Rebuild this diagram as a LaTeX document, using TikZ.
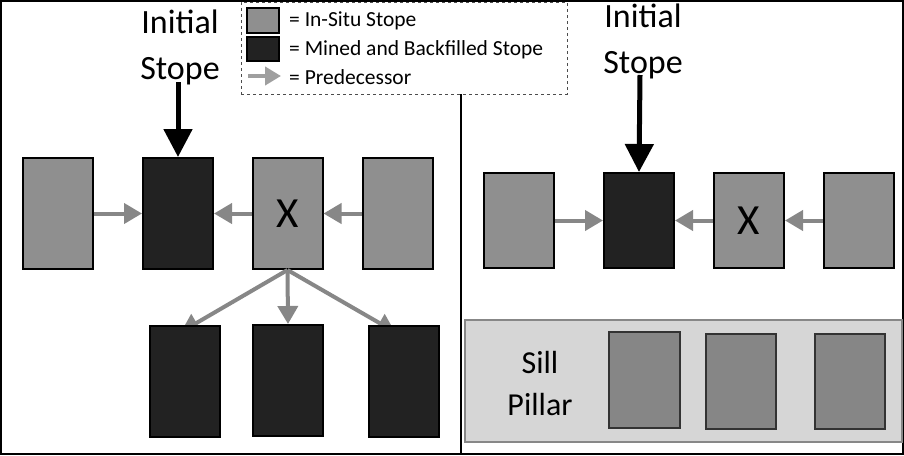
\documentclass[tikz,border=0pt]{standalone}
\usepackage{fontspec}
\setmainfont{Carlito}
\usetikzlibrary{arrows.meta}
\definecolor{insitu}{HTML}{8F8F8F}
\definecolor{mined}{HTML}{222222}
\definecolor{predgrey}{HTML}{878787}
\definecolor{sillfill}{HTML}{D6D6D6}
\definecolor{sillbox}{HTML}{868686}
\tikzset{
  stopebox/.style={draw=black, line width=2pt, minimum width=70pt, inner sep=0pt},
  insitubox/.style={stopebox, fill=insitu},
  minedbox/.style={stopebox, fill=mined},
  pred/.style={draw=predgrey, line width=4pt, -{Triangle[length=18pt,width=20pt]}, color=predgrey},
  initarrow/.style={draw=black, line width=5pt, -{Triangle[length=28pt,width=28pt]}},
  bigtext/.style={font=\fontsize{34}{46}\selectfont, align=center, inner sep=0pt},
  legtext/.style={font=\fontsize{21.5}{25}\selectfont, anchor=west, inner sep=0pt},
  sillboxst/.style={draw=black!80, line width=2pt, fill=sillbox, inner sep=0pt}
}
\begin{document}
\begin{tikzpicture}[x=1pt,y=-1pt]
\useasboundingbox (0,0) rectangle (904,455);
% frame and divider
\draw[line width=1.5pt] (1,1) rectangle (903,454);
\draw[line width=1.5pt] (461,1) -- (461,454);

% ---------- left panel ----------
\node[bigtext] (initL) at (180,47) {Initial\\Stope};
\coordinate (aL) at (178,82);

\node[insitubox, minimum height=111pt] (L1) at (57.5,213.5) {};
\node[minedbox, minimum height=111pt] (L2) at (178,213.5) {};
\node[insitubox, minimum height=111pt] (L3) at (287.5,213.5) {\fontsize{43}{46}\selectfont X};
\node[insitubox, minimum height=111pt] (L4) at (397.5,213.5) {};

% arrows to bottom boxes (drawn first, behind boxes)
\coordinate (tB1) at (181,332);
\coordinate (tB3) at (395,332);
\draw[pred] (L3.south) -- (tB1);
\draw[pred] (L3.south) -- (tB3);

\node[minedbox, minimum height=111pt] (B1) at (185,381.5) {};
\node[minedbox, minimum height=111pt] (B2) at (288,380.5) {};
\node[minedbox, minimum height=111pt] (B3) at (404,381.5) {};
\draw[pred] (L3.south) -- (B2.north);

\draw[initarrow] (aL) -- (L2.north);
\draw[pred] (L1.east) -- (L2.west);
\draw[pred] (L3.west) -- (L2.east);
\draw[pred] (L4.west) -- (L3.east);

% ---------- right panel ----------
\node[bigtext] (initR) at (643,41) {Initial\\Stope};
\coordinate (aR) at (640,75);
\node[insitubox, minimum height=95pt] (R1) at (519,220.5) {};
\node[minedbox, minimum height=95pt] (R2) at (639,220.5) {};
\node[insitubox, minimum height=95pt] (R3) at (749,220.5) {\fontsize{43}{46}\selectfont X};
\node[insitubox, minimum height=95pt] (R4) at (858.5,220.5) {};
\draw[initarrow] (aR) -- (R2.north);
\draw[pred] (R1.east) -- (R2.west);
\draw[pred] (R3.west) -- (R2.east);
\draw[pred] (R4.west) -- (R3.east);

% sill pillar
\node[draw=predgrey, line width=1.5pt, fill=sillfill, minimum width=437pt, minimum height=122pt, inner sep=0pt] (sill) at (683.5,381) {};
\node[font=\fontsize{32}{42}\selectfont, align=center, inner sep=0pt] (silltxt) at (540,384) {Sill\\Pillar};
\node[sillboxst, minimum width=71pt, minimum height=96pt] (S1) at (644.5,380) {};
\node[sillboxst, minimum width=70pt, minimum height=95pt] (S2) at (741,381.5) {};
\node[sillboxst, minimum width=70pt, minimum height=95pt] (S3) at (850,381.5) {};

% ---------- legend ----------
\node[draw=black!70, dashed, line width=1pt, fill=white, minimum width=326pt, minimum height=92pt, inner sep=0pt] (legend) at (404,48) {};
\node[draw=black, line width=2pt, fill=insitu, minimum width=32pt, minimum height=25pt, inner sep=0pt] (sw1) at (263,20.5) {};
\node[draw=black, line width=2pt, fill=mined, minimum width=32pt, minimum height=24pt, inner sep=0pt] (sw2) at (263,49) {};
\coordinate (la0) at (248,76);
\coordinate (la1) at (281,76);
\draw[draw=predgrey!80, color=predgrey!80, line width=4pt, -{Triangle[length=16pt,width=18pt]}] (la0) -- (la1);
\node[legtext] (lt1) at (289,21) {= In-Situ Stope};
\node[legtext] (lt2) at (289,50) {= Mined and Backfilled Stope};
\node[legtext] (lt3) at (289,77) {= Predecessor};
\end{tikzpicture}
\end{document}
